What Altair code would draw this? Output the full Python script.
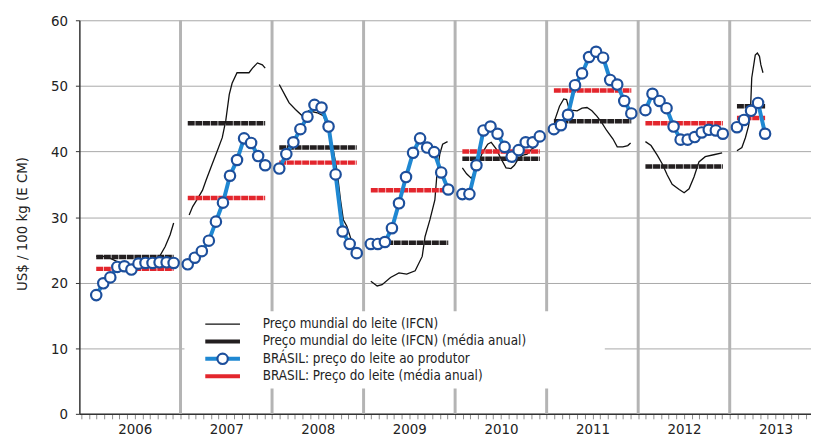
import altair as alt
import pandas as pd

FONT = "Liberation Sans Narrow, DejaVu Sans Condensed, Arial Narrow, sans-serif"

years = [2006, 2007, 2008, 2009, 2010, 2011, 2012, 2013]

# BRASIL: preço do leite ao produtor (monthly)
brasil_2006 = [18.1, 19.9, 20.8, 22.4, 22.5, 22.0, 22.9, 23.0, 23.0, 23.1, 23.1, 23.0]
brasil_2007 = [22.8, 23.8, 24.8, 26.4, 29.3, 32.2, 36.3, 38.7, 42.0, 41.3, 39.3, 37.9]
brasil_2008 = [37.4, 39.6, 41.4, 43.4, 45.3, 47.1, 46.7, 43.8, 36.5, 27.8, 25.9, 24.5]
brasil_2009 = [25.9, 25.9, 26.2, 28.3, 32.1, 36.1, 39.8, 42.0, 40.6, 39.9, 36.8, 34.2]
brasil_2010 = [33.5, 33.5, 37.9, 43.2, 43.8, 42.7, 40.7, 39.2, 40.2, 41.4, 41.4, 42.3]
brasil_2011 = [43.4, 44.0, 45.6, 50.1, 51.9, 54.4, 55.2, 54.3, 50.9, 50.2, 47.7, 45.8]
brasil_2012 = [46.3, 48.8, 47.7, 46.6, 43.8, 41.8, 41.8, 42.2, 42.9, 43.3, 43.2, 42.7]
brasil_2013 = [43.7, 44.8, 46.2, 47.4, 42.7]

# annual averages
brasil_avg = [22.1, 32.9, 38.3, 34.1, 40.0, 49.3, 44.3, 45.1]
world_avg = [23.9, 44.3, 40.6, 26.1, 38.9, 44.6, 37.7, 46.9]

# Preço mundial do leite (IFCN): month index (0 = Jan) and value
world_2006_month = [0, 1, 2, 3, 4, 5, 6, 7, 8, 9, 9.8, 10.5, 11]
world_2006 = [24.0, 24.0, 23.7, 23.2, 22.8, 22.7, 22.8, 23.0, 23.5, 24.0, 25.5, 27.3, 29.1]
world_2007_month = [0.2, 0.7, 1.4, 2.1, 2.6, 3.3, 4.2, 4.9, 5.4, 5.9, 6.3, 7.0, 8.7, 9.2, 9.9, 10.6, 11.0]
world_2007 = [30.3, 31.6, 32.8, 34.1, 35.6, 37.6, 40.1, 42.1, 44.7, 48.7, 50.4, 52.0, 52.0, 52.7, 53.5, 53.2, 52.7]
world_2008_month = [0, 0.9, 1.4, 2.3, 3.3, 4.2, 5.4, 6.3, 7.0, 7.7, 8.2, 8.7, 9.1, 9.6, 10.2]
world_2008 = [50.2, 48.4, 47.4, 46.4, 45.4, 46.2, 45.9, 45.4, 43.2, 40.1, 37.1, 32.6, 29.6, 28.6, 26.6]
world_2009_month = [0, 0.9, 1.6, 2.8, 4.0, 5.1, 6.3, 7.3, 7.7, 8.4, 9.1, 9.4, 9.8, 10.2, 10.9]
world_2009 = [20.2, 19.5, 19.7, 20.8, 21.5, 21.3, 21.8, 24.0, 27.0, 29.6, 32.6, 36.6, 39.6, 41.1, 41.5]
world_2010_month = [0, 0.6, 1.3, 2.0, 2.9, 3.6, 4.1, 4.8, 5.5, 6.2, 6.9, 7.4, 7.8, 8.5, 9.2, 9.9, 10.6]
world_2010 = [37.5, 36.6, 35.9, 37.6, 39.9, 41.1, 41.4, 40.4, 38.9, 37.5, 37.4, 37.9, 38.6, 39.4, 39.6, 40.4, 40.9]
world_2011_month = [0.1, 0.8, 1.4, 1.8, 2.1, 2.5, 3.3, 4.0, 4.7, 5.4, 6.1, 6.8, 7.5, 8.4, 9.0, 9.8, 10.5, 10.9]
world_2011 = [44.7, 46.9, 48.0, 47.9, 46.7, 46.3, 46.2, 46.6, 46.7, 46.2, 45.4, 44.4, 43.2, 41.9, 40.7, 40.7, 40.9, 41.3]
world_2012_month = [0, 0.8, 1.7, 2.4, 3.1, 3.8, 4.8, 5.5, 6.2, 6.9, 7.6, 8.5, 9.7, 10.9]
world_2012 = [41.5, 40.9, 39.4, 38.1, 36.4, 35.0, 34.2, 33.7, 34.3, 36.1, 38.4, 39.2, 39.5, 39.8]
world_2013_month = [0, 0.7, 1.2, 1.65, 1.9, 2.1, 2.6, 2.9, 3.2, 3.4, 3.7]
world_2013 = [40.1, 40.6, 42.1, 43.9, 45.7, 51.2, 54.7, 55.0, 54.5, 53.2, 52.0]

legend_labels = [
    "Preço mundial do leite (IFCN)",
    "Preço mundial do leite (IFCN) (média anual)",
    "BRÁSIL: preço do leite ao produtor",
    "BRASIL: Preço do leite (média anual)",
]

brasil = [brasil_2006, brasil_2007, brasil_2008, brasil_2009, brasil_2010, brasil_2011, brasil_2012, brasil_2013]
world_m = [world_2006_month, world_2007_month, world_2008_month, world_2009_month,
           world_2010_month, world_2011_month, world_2012_month, world_2013_month]
world_v = [world_2006, world_2007, world_2008, world_2009, world_2010, world_2011, world_2012, world_2013]


def tpos(year, m):
    # time within a year band: months are drawn inside the year band
    return year + (7.3 + m * 7.1) / 92.33


rows_b, rows_w, rows_avg = [], [], []
for yr, vals, wm, wv, ba, wa in zip(years, brasil, world_m, world_v, brasil_avg, world_avg):
    for m, v in enumerate(vals):
        rows_b.append({"year": yr, "x": tpos(yr, m), "y": v})
    for m, v in zip(wm, wv):
        rows_w.append({"year": yr, "x": tpos(yr, m), "y": v})
    last = len(vals) - 1
    rows_avg.append({"year": yr, "x": tpos(yr, 0), "x2": tpos(yr, last), "y": ba, "s": "br"})
    rows_avg.append({"year": yr, "x": tpos(yr, 0), "x2": tpos(yr, last), "y": wa, "s": "wd"})

df_b = pd.DataFrame(rows_b)
df_w = pd.DataFrame(rows_w)
df_avg = pd.DataFrame(rows_avg)
df_sep = pd.DataFrame({"x": years[1:]})

W, H = 738, 397
X0 = 2005.895
X1 = X0 + W / 92.33

month_ticks = [2005 + 11 / 12] + [y + k / 12 for y in years for k in range(12)]
month_ticks = [t for t in month_ticks if X0 < t < X1]

xscale = alt.Scale(domain=[X0, X1], nice=False, zero=False)
yscale = alt.Scale(domain=[0, 60], nice=False)
xaxis = alt.Axis(
    values=month_ticks,
    labelExpr="abs(datum.value - floor(datum.value) - 0.5) < 0.001 ? format(floor(datum.value), 'd') : ''",
    tickSize=5, tickColor="#8c8c8c", tickWidth=1,
    domainColor="#333333", domainWidth=1.5,
    grid=False, labelFont=FONT, labelFontSize=15, labelColor="#222222",
    labelPadding=3, labelOverlap=False, labelFlush=False, title=None,
)
yaxis = alt.Axis(
    values=[0, 10, 20, 30, 40, 50, 60],
    grid=True, gridColor="#a8a8a8", gridWidth=1,
    tickSize=4, tickColor="#333333", domainColor="#333333", domainWidth=1.5,
    labelFont=FONT, labelFontSize=15, labelColor="#222222", labelPadding=8,
    title="US$ / 100 kg (E CM)", titleFont=FONT, titleFontSize=15, titleFontWeight="normal",
    titleColor="#222222", titleX=-58, titleY=205, titleAngle=270,
    titleAlign="center", titleBaseline="middle",
)


def X():
    return alt.X("x:Q", scale=xscale, axis=xaxis)


def Y():
    return alt.Y("y:Q", scale=yscale, axis=yaxis)


sep = alt.Chart(df_sep).mark_rule(color="#b4b4b4", strokeWidth=3).encode(
    x=X(), y=alt.value(0), y2=alt.value(H)
)

world_line = alt.Chart(df_w).mark_line(color="#111111", strokeWidth=1.3).encode(
    x=X(), y=Y(), detail="year:N"
)

avg_w = alt.Chart(df_avg[df_avg.s == "wd"]).mark_rule(
    color="#231f20", strokeWidth=4.5, strokeDash=[7, 0.7]
).encode(x=X(), x2="x2:Q", y=Y())

avg_b = alt.Chart(df_avg[df_avg.s == "br"]).mark_rule(
    color="#e3262d", strokeWidth=4.5, strokeDash=[7, 0.7]
).encode(x=X(), x2="x2:Q", y=Y())

blue_line = alt.Chart(df_b).mark_line(color="#1f88d2", strokeWidth=4).encode(
    x=X(), y=Y(), detail="year:N"
)

blue_pts = alt.Chart(df_b).mark_point(
    shape="circle", filled=True, fill="white", stroke="#1d4f9c", strokeWidth=2.2, size=110, opacity=1
).encode(x=X(), y=Y())

# legend (drawn in pixel space inside the plot)
one = pd.DataFrame({"a": [0]})
LX0, LX1 = 127, 162
rows_y = [306.5, 324.0, 341.5, 359.0]
leg = [
    alt.Chart(one).mark_rect(fill="white").encode(
        x=alt.value(106), x2=alt.value(530), y=alt.value(293.5), y2=alt.value(371.5)
    ),
    alt.Chart(one).mark_rule(color="#111111", strokeWidth=1.5).encode(
        x=alt.value(LX0), x2=alt.value(LX1), y=alt.value(rows_y[0])
    ),
    alt.Chart(one).mark_rule(color="#231f20", strokeWidth=4).encode(
        x=alt.value(LX0), x2=alt.value(LX1), y=alt.value(rows_y[1])
    ),
    alt.Chart(one).mark_rule(color="#1f88d2", strokeWidth=4).encode(
        x=alt.value(LX0), x2=alt.value(LX1), y=alt.value(rows_y[2])
    ),
    alt.Chart(one).mark_point(
        shape="circle", filled=True, fill="white", stroke="#1d4f9c", strokeWidth=2.2, size=110, opacity=1
    ).encode(x=alt.value((LX0 + LX1) / 2), y=alt.value(rows_y[2])),
    alt.Chart(one).mark_rule(color="#e3262d", strokeWidth=4).encode(
        x=alt.value(LX0), x2=alt.value(LX1), y=alt.value(rows_y[3])
    ),
]
for lab, ry in zip(legend_labels, rows_y):
    leg.append(
        alt.Chart(one).mark_text(
            text=lab, align="left", baseline="middle", font=FONT, fontSize=13.5, color="#222222"
        ).encode(x=alt.value(185), y=alt.value(ry))
    )

chart = alt.layer(sep, world_line, avg_w, avg_b, blue_line, blue_pts, *leg).properties(
    width=W, height=H,
    autosize=alt.AutoSizeParams(type="none"),
    padding={"left": 72, "top": 10.5, "right": 0, "bottom": 25},
    background="white",
).configure_view(stroke=None)

chart.save("out.html", embed_options={"renderer": "svg", "actions": False})
